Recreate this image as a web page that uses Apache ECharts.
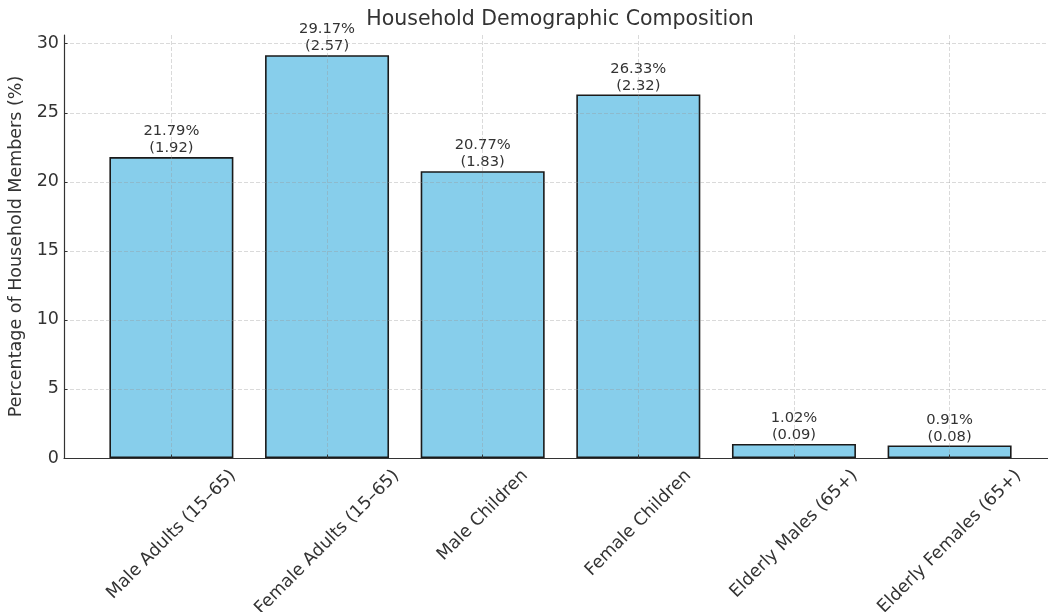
<!DOCTYPE html>
<html>
<head>
<meta charset="utf-8">
<script src="https://cdn.jsdelivr.net/npm/echarts@6/dist/echarts.min.js"></script>
<style>
  html, body { margin: 0; padding: 0; background: #fff; }
  #chart { width: 1048px; height: 612px; }
</style>
</head>
<body>
<div id="chart"></div>
<script>
// Household composition: share of members (%) and mean count per household
const categories = [
  'Male Adults (15–65)',
  'Female Adults (15–65)',
  'Male Children',
  'Female Children',
  'Elderly Males (65+)',
  'Elderly Females (65+)'
];
const percentages = [21.79, 29.17, 20.77, 26.33, 1.02, 0.91];
const counts = [1.92, 2.57, 1.83, 2.32, 0.09, 0.08];
const yTicks = [0, 5, 10, 15, 20, 25, 30];

const FONT = '"DejaVu Sans", "Liberation Sans", sans-serif';
const TEXT = '#333333';
const AXIS_FS = 17.5;

// Rotated category labels are centred on their tick: pad each label by half
// its own width so the rotated box hangs evenly below the tick.
const measure = document.createElement('canvas').getContext('2d');
measure.font = AXIS_FS + 'px "DejaVu Sans"';
const rich = {};
categories.forEach((c, i) => {
  const p = measure.measureText(c).width / 2;
  rich['c' + i] = { fontSize: AXIS_FS, fontFamily: FONT, color: TEXT, padding: [p, p, 0, 0] };
});

const positions = categories.map((_, i) => i);
const barData = percentages.map((v, i) => [positions[i], v]);

const gridLine = { show: true, lineStyle: { color: 'rgba(150,150,150,0.45)', width: 0.8, type: [4, 2] } };

const chart = echarts.init(document.getElementById('chart'), null, { renderer: 'canvas' });
chart.setOption({
  animation: false,
  backgroundColor: '#ffffff',
  title: {
    text: 'Household Demographic Composition',
    left: 560,
    textAlign: 'center',
    top: 9,
    padding: 0,
    textStyle: { fontFamily: FONT, fontSize: 20.5, fontWeight: 'normal', color: TEXT }
  },
  grid: { left: 64, width: 993, top: 35, bottom: 154, containLabel: false, outerBoundsMode: 'none' },
  xAxis: {
    type: 'value',
    min: -0.69,
    max: 5.69,
    z: 3,
    axisLine: { show: true, onZero: false, lineStyle: { color: TEXT, width: 1.2 } },
    axisTick: { show: true, inside: true, length: 3.5, customValues: positions, lineStyle: { color: TEXT, width: 1 } },
    axisLabel: {
      customValues: positions,
      rotate: 45,
      align: 'center',
      verticalAlign: 'middle',
      margin: 15,
      showMinLabel: true,
      showMaxLabel: true,
      formatter: (v) => {
        const i = Math.round(v);
        return '{c' + i + '|' + categories[i] + '}';
      },
      rich: rich
    },
    splitLine: gridLine
  },
  yAxis: {
    type: 'value',
    min: 0,
    max: 30.63,
    interval: 5,
    z: 3,
    name: 'Percentage of Household Members (%)',
    nameLocation: 'middle',
    nameGap: 36,
    nameTextStyle: { fontFamily: FONT, fontSize: AXIS_FS, color: TEXT },
    axisLine: { show: true, onZero: false, lineStyle: { color: TEXT, width: 1.2 } },
    axisTick: { show: true, inside: true, length: 3.5, lineStyle: { color: TEXT, width: 1 } },
    axisLabel: {
      margin: 5,
      fontFamily: FONT,
      fontSize: AXIS_FS,
      color: TEXT,
      showMaxLabel: false,
      formatter: (v) => (yTicks.indexOf(v) >= 0 ? String(v) : '')
    },
    splitLine: Object.assign({ showMinLine: false, showMaxLine: false }, gridLine)
  },
  series: [{
    type: 'bar',
    data: barData,
    barWidth: 124,
    z: 2,
    itemStyle: { color: '#87CEEB', borderColor: '#1a1a1a', borderWidth: 1.6 },
    label: {
      show: true,
      position: 'top',
      distance: 0,
      fontFamily: FONT,
      fontSize: 14.7,
      lineHeight: 17,
      color: TEXT,
      align: 'center',
      formatter: (p) => {
        const i = p.dataIndex;
        return percentages[i].toFixed(2) + '%\n(' + counts[i].toFixed(2) + ')';
      }
    }
  }]
});
</script>
</body>
</html>
